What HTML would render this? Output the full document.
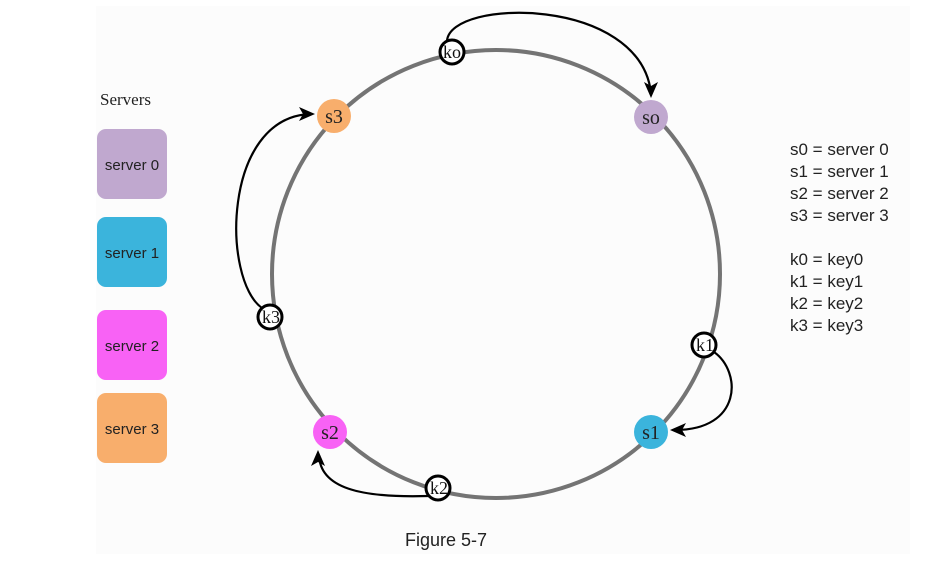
<!DOCTYPE html>
<html><head><meta charset="utf-8"><style>
html,body{margin:0;padding:0;background:#fff;}
svg{display:block;}
</style></head><body>
<svg width="943" height="561" viewBox="0 0 943 561" xmlns="http://www.w3.org/2000/svg">
<rect x="96" y="6" width="814" height="548" fill="#fcfcfc"/>
<text x="100" y="105" font-family="Liberation Serif, serif" font-size="17" fill="#222">Servers</text>
<rect x="97" y="129" width="70" height="70" rx="9" fill="#c0a8cf"/>
<text x="132" y="170" text-anchor="middle" font-family="Liberation Sans, sans-serif" font-size="15" fill="#222">server 0</text>
<rect x="97" y="217" width="70" height="70" rx="9" fill="#3bb4dc"/>
<text x="132" y="258" text-anchor="middle" font-family="Liberation Sans, sans-serif" font-size="15" fill="#222">server 1</text>
<rect x="97" y="310" width="70" height="70" rx="9" fill="#f862f5"/>
<text x="132" y="351" text-anchor="middle" font-family="Liberation Sans, sans-serif" font-size="15" fill="#222">server 2</text>
<rect x="97" y="393" width="70" height="70" rx="9" fill="#f8ae6c"/>
<text x="132" y="434" text-anchor="middle" font-family="Liberation Sans, sans-serif" font-size="15" fill="#222">server 3</text>

<circle cx="496" cy="274" r="224" fill="none" stroke="#747474" stroke-width="4"/>

<g fill="none" stroke="#000" stroke-width="2.2">
<path d="M447,41 C450,-2 640,-4 651,93"/>
<path d="M262,308 C222,280 222,118 310,114"/>
<path d="M714,352 C742,372 742,430 675,430"/>
<path d="M428,496 C360,498 320,488 319,455"/>
</g>
<g fill="#000">
<path d="M651,98 L644,82 L651,86 L658,82 Z"/>
<path d="M315,114 L299,107 L303,114 L299,121 Z"/>
<path d="M670,430 L686,423 L682,430 L686,437 Z"/>
<path d="M318,450 L311,466 L318,462 L325,466 Z"/>
</g>

<circle cx="651" cy="117" r="17" fill="#c0a8cf"/>
<text x="651" y="124" text-anchor="middle" font-family="Liberation Serif, serif" font-size="20" fill="#222">so</text>
<circle cx="334" cy="116" r="17" fill="#f8ae6c"/>
<text x="334" y="123" text-anchor="middle" font-family="Liberation Serif, serif" font-size="20" fill="#222">s3</text>
<circle cx="330" cy="432" r="17" fill="#f862f5"/>
<text x="330" y="439" text-anchor="middle" font-family="Liberation Serif, serif" font-size="20" fill="#222">s2</text>
<circle cx="651" cy="432" r="17" fill="#3bb4dc"/>
<text x="651" y="439" text-anchor="middle" font-family="Liberation Serif, serif" font-size="20" fill="#222">s1</text>

<g fill="#fff" stroke="#000" stroke-width="3">
<circle cx="452" cy="52" r="12"/>
<circle cx="270" cy="317" r="12"/>
<circle cx="704" cy="345" r="12"/>
<circle cx="438" cy="488" r="12"/>
</g>
<g font-family="Liberation Serif, serif" font-size="18" fill="#111" text-anchor="middle">
<text x="452" y="58">ko</text>
<text x="271" y="323">k3</text>
<text x="705" y="351">k1</text>
<text x="439" y="494">k2</text>
</g>

<g font-family="Liberation Sans, sans-serif" font-size="17" fill="#222">
<text x="790" y="155">s0 = server 0</text>
<text x="790" y="177">s1 = server 1</text>
<text x="790" y="199">s2 = server 2</text>
<text x="790" y="221">s3 = server 3</text>
<text x="790" y="265">k0 = key0</text>
<text x="790" y="287">k1 = key1</text>
<text x="790" y="309">k2 = key2</text>
<text x="790" y="331">k3 = key3</text>
</g>
<text x="405" y="546" font-family="Liberation Sans, sans-serif" font-size="18" fill="#222">Figure 5-7</text>
</svg>
</body></html>
